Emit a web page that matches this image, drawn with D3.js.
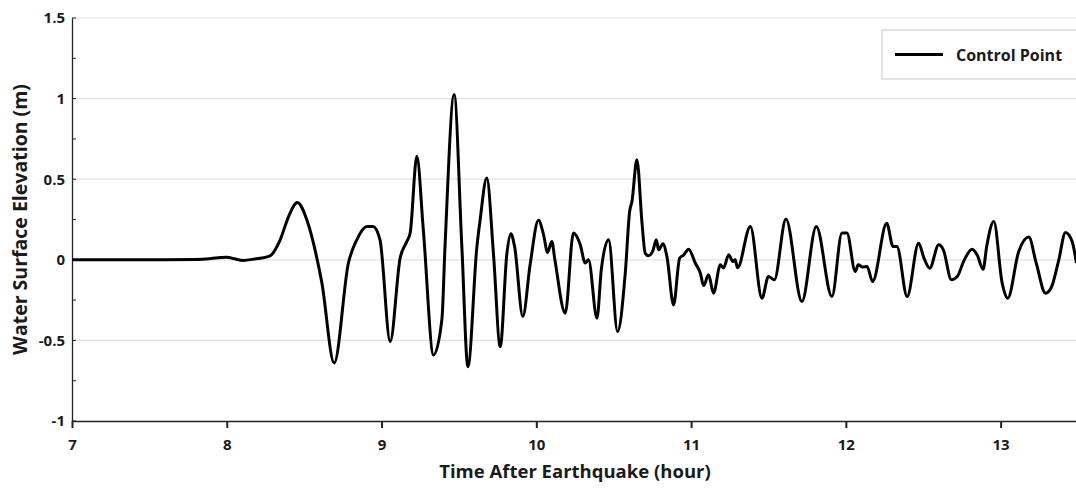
<!DOCTYPE html>
<html>
<head>
<meta charset="utf-8">
<script src="https://cdn.jsdelivr.net/npm/d3@7/dist/d3.min.js"></script>
<style>
  body { margin: 0; background: #fff; }
  svg { display: block; font-family: "Open Sans", sans-serif; font-weight: 700; }
</style>
</head>
<body>
<div id="chart"></div>
<script>
// time after earthquake (hour) and water surface elevation (m)
const timeHours = [
  7.0, 7.5, 7.8, 7.9, 7.96, 8.0, 8.05, 8.105, 8.18, 8.28, 8.345, 8.40, 8.456,
  8.52, 8.58, 8.614, 8.694, 8.786, 8.84, 8.905, 8.945, 8.99, 9.056, 9.12, 9.159,
  9.185, 9.228, 9.27, 9.336, 9.39, 9.41, 9.469, 9.519, 9.558, 9.616, 9.637, 9.68,
  9.723, 9.767, 9.81, 9.836, 9.86, 9.913, 9.96, 10.014, 10.047, 10.073, 10.10,
  10.12, 10.187, 10.24, 10.284, 10.316, 10.337, 10.392, 10.42, 10.467, 10.525,
  10.575, 10.603, 10.618, 10.65, 10.683, 10.704, 10.725, 10.754, 10.775, 10.79,
  10.818, 10.844, 10.887, 10.926, 10.952, 10.984, 11.027, 11.06, 11.081, 11.113,
  11.145, 11.189, 11.21, 11.243, 11.27, 11.285, 11.3, 11.383, 11.458, 11.5,
  11.538, 11.613, 11.716, 11.809, 11.91, 11.975, 12.007, 12.061, 12.08, 12.11,
  12.137, 12.173, 12.264, 12.305, 12.33, 12.396, 12.47, 12.505, 12.542, 12.6,
  12.63, 12.682, 12.72, 12.761, 12.816, 12.848, 12.887, 12.91, 12.956, 13.01,
  13.046, 13.117, 13.182, 13.23, 13.29, 13.33, 13.376, 13.419, 13.462, 13.49
];
const elevation = [
  0.0, 0.0, 0.002, 0.008, 0.014, 0.016, 0.006, -0.004, 0.005, 0.025, 0.124, 0.27, 0.356,
  0.24, 0.02, -0.14, -0.64, -0.02, 0.124, 0.207, 0.207, 0.124, -0.507, 0.01, 0.105,
  0.166, 0.642, 0.186, -0.59, -0.37, 0.08, 1.025, 0.08, -0.663, 0.08, 0.248, 0.507,
  0.04, -0.538, 0.04, 0.161, 0.08, -0.352, -0.03, 0.245, 0.155, 0.045, 0.114,
  0.0, -0.331, 0.166, 0.093, -0.02, 0.0, -0.362, -0.06, 0.124, -0.445,
  -0.08, 0.3, 0.362, 0.621, 0.228, 0.04, 0.025, 0.058, 0.124, 0.062,
  0.1, 0.02, -0.28, 0.01, 0.03, 0.066, -0.02, -0.083, -0.16, -0.093,
  -0.207, -0.031, -0.05, 0.031, -0.01, 0.0, -0.05, 0.207, -0.238, -0.104,
  -0.124, 0.253, -0.259, 0.207, -0.228, 0.166, 0.166, -0.073, -0.031, -0.045,
  -0.041, -0.135, 0.226, 0.083, 0.083, -0.228, 0.103, 0.01, -0.052, 0.093,
  0.062, -0.124, -0.104, -0.01, 0.066, 0.031, -0.058, 0.083, 0.238, -0.145,
  -0.238, 0.052, 0.141, -0.02, -0.207, -0.166, 0.0, 0.17, 0.114, -0.02
];
const xTicks = [7, 8, 9, 10, 11, 12, 13];
const yTicks = [-1, -0.5, 0, 0.5, 1, 1.5];
const yMinorTicks = [-0.75, -0.25, 0.25, 0.75, 1.25];
const seriesName = "Control Point";

const W = 1076, H = 488;
const margin = { top: 18, right: -2, bottom: 67, left: 72 };

const svg = d3.select("#chart").append("svg")
  .attr("width", W)
  .attr("height", H);

const x = d3.scaleLinear().domain([7, 13.5]).range([margin.left, W - margin.right]);
const y = d3.scaleLinear().domain([-1, 1.5]).range([H - margin.bottom, margin.top]);
const fmt = (d) => String(d); // plain hyphen minus, no trailing zeros

// grid lines
svg.append("g")
  .selectAll("line")
  .data(yTicks.filter((d) => d > -1))
  .join("line")
  .attr("x1", margin.left)
  .attr("x2", W)
  .attr("y1", (d) => y(d))
  .attr("y2", (d) => y(d))
  .attr("stroke", "#e2e2e2")
  .attr("stroke-width", 1.2);

// y axis
const yAxis = svg.append("g")
  .attr("transform", `translate(${margin.left},0)`)
  .call(d3.axisLeft(y).tickValues(yTicks).tickSize(0).tickPadding(7).tickFormat(fmt));
yAxis.select(".domain").attr("stroke", "#222").attr("stroke-width", 1.3);
yAxis.selectAll("text").attr("font-size", 15).attr("fill", "#1a1a1a")
  .attr("font-family", "'Open Sans', sans-serif").attr("font-weight", 700);

svg.append("g")
  .selectAll("line")
  .data(yMinorTicks.concat(yTicks))
  .join("line")
  .attr("x1", margin.left)
  .attr("x2", margin.left + 4)
  .attr("y1", (d) => y(d))
  .attr("y2", (d) => y(d))
  .attr("stroke", "#222")
  .attr("stroke-width", 1);

// x axis
const xAxis = svg.append("g")
  .attr("transform", `translate(0,${y(-1)})`)
  .call(d3.axisBottom(x).tickValues(xTicks).tickSize(7).tickSizeOuter(0).tickPadding(11)
    .tickFormat(fmt));
xAxis.select(".domain").attr("stroke", "#222").attr("stroke-width", 1.3);
xAxis.selectAll(".tick line").attr("stroke", "#222").attr("stroke-width", 2);
xAxis.selectAll("text").attr("font-size", 15).attr("fill", "#1a1a1a")
  .attr("font-family", "'Open Sans', sans-serif").attr("font-weight", 700);

// axis titles
svg.append("text")
  .attr("x", x(10.25))
  .attr("y", 478)
  .attr("text-anchor", "middle")
  .attr("font-size", 18.5)
  .attr("fill", "#1a1a1a")
  .text("Time After Earthquake (hour)");

svg.append("text")
  .attr("transform", `translate(27,${y(0.25)}) rotate(-90)`)
  .attr("text-anchor", "middle")
  .attr("font-size", 19.5)
  .attr("fill", "#1a1a1a")
  .text("Water Surface Elevation (m)");

// the series
const data = timeHours.map((t, i) => ({ t, v: elevation[i] }));
svg.append("path")
  .datum(data)
  .attr("fill", "none")
  .attr("stroke", "#000")
  .attr("stroke-width", 3)
  .attr("stroke-linejoin", "round")
  .attr("d", d3.line().x((d) => x(d.t)).y((d) => y(d.v)).curve(d3.curveMonotoneX));

// legend
const legend = svg.append("g").attr("transform", "translate(882,30)");
legend.append("rect")
  .attr("width", 200)
  .attr("height", 49)
  .attr("fill", "#fff")
  .attr("stroke", "#c8c8c8")
  .attr("stroke-width", 1);
legend.append("line")
  .attr("x1", 13).attr("x2", 61)
  .attr("y1", 24.5).attr("y2", 24.5)
  .attr("stroke", "#000")
  .attr("stroke-width", 3);
legend.append("text")
  .attr("x", 74)
  .attr("y", 30.5)
  .attr("font-size", 16)
  .attr("fill", "#1a1a1a")
  .text(seriesName);
</script>
</body>
</html>
